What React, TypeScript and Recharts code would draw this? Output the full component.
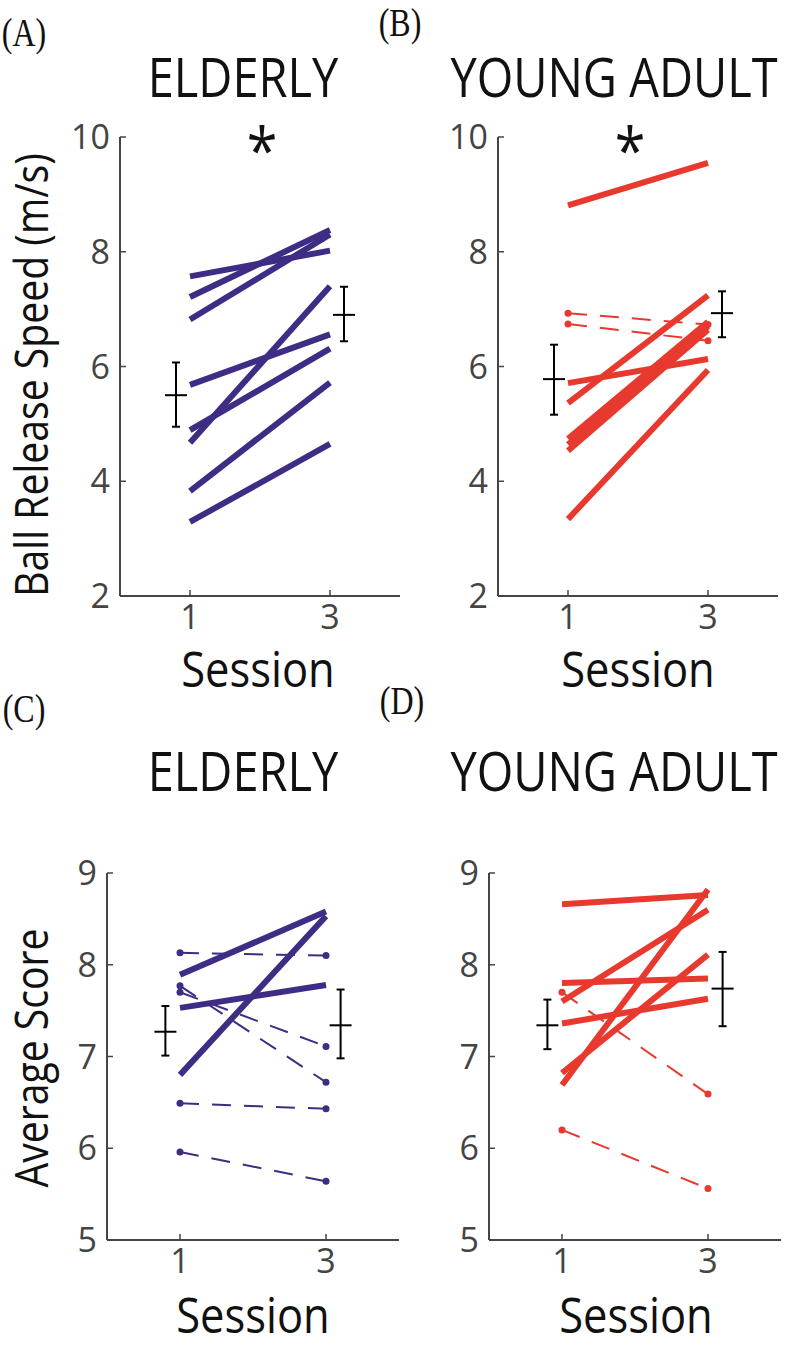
import React from "react";
import { ComposedChart, Line, Scatter, ErrorBar, XAxis, YAxis } from "recharts";

const sessions = [1, 3];
const speedTicks = [2, 4, 6, 8, 10];
const scoreTicks = [5, 6, 7, 8, 9];

// (A) elderly, ball release speed (m/s), session 1 -> session 3
const elderlySpeedS1 = [7.57, 7.21, 6.82, 5.68, 4.89, 4.67, 3.83, 3.29];
const elderlySpeedS3 = [8.02, 8.38, 8.3, 6.56, 6.31, 7.4, 5.72, 4.65];

// (B) young adult, ball release speed
const youngSpeedS1 = [8.81, 5.36, 5.71, 4.74, 4.64, 4.53, 3.34];
const youngSpeedS3 = [9.55, 7.24, 6.13, 6.78, 6.7, 6.64, 5.94];
const youngSpeedDashS1 = [6.93, 6.74];
const youngSpeedDashS3 = [6.73, 6.45];

// (C) elderly, average score
const elderlyScoreS1 = [7.89, 7.53, 6.8];
const elderlyScoreS3 = [8.58, 7.78, 8.53];
const elderlyScoreDashS1 = [8.13, 7.77, 7.7, 6.49, 5.96];
const elderlyScoreDashS3 = [8.1, 6.72, 7.11, 6.43, 5.64];

// (D) young adult, average score
const youngScoreS1 = [8.66, 7.8, 7.6, 7.36, 6.82, 6.69];
const youngScoreS3 = [8.76, 7.85, 8.6, 7.63, 8.11, 8.82];
const youngScoreDashS1 = [7.7, 6.2];
const youngScoreDashS3 = [6.59, 5.56];

// group means with error bar ends (session 1, session 3), drawn beside the sessions
const errX = [0.8, 3.2];
const elderlySpeedMean = [5.5, 6.9];
const elderlySpeedLo = [4.95, 6.44];
const elderlySpeedHi = [6.07, 7.39];
const youngSpeedMean = [5.78, 6.93];
const youngSpeedLo = [5.16, 6.51];
const youngSpeedHi = [6.38, 7.31];
const elderlyScoreMean = [7.27, 7.34];
const elderlyScoreLo = [7.01, 6.98];
const elderlyScoreHi = [7.55, 7.73];
const youngScoreMean = [7.34, 7.74];
const youngScoreLo = [7.08, 7.33];
const youngScoreHi = [7.62, 8.14];

const PURPLE = "#3f2c84";
const RED = "#e8392f";
const AXIS = "#454545";
const SANS = "'Open Sans', sans-serif";

const pairs = (a: number[], b: number[]) =>
  a.map((v, i) => [
    { s: sessions[0], v },
    { s: sessions[1], v: b[i] },
  ]);

const errData = (mean: number[], lo: number[], hi: number[]) =>
  errX.map((x, i) => ({ s: x, v: mean[i], e: [mean[i] - lo[i], hi[i] - mean[i]] }));

function Panel({ box, domain, ticks, color, s1, s3, d1, d3, mean, lo, hi }: any) {
  const [L, T, R, B] = box;
  const yW = 90;
  const xH = 50;
  const left = L - yW - 10;
  const top = T - 40;
  const width = R - left + 15;
  const height = B - top + xH + 5;
  const tickStyle = { fill: "#444", fontSize: 34, fontFamily: SANS };
  return (
    <div style={{ position: "absolute", left, top }}>
      <ComposedChart width={width} height={height} margin={{ top: 40, left: 10, right: 15, bottom: 5 }}>
        <XAxis
          type="number"
          dataKey="s"
          domain={[0, 4]}
          ticks={sessions}
          height={xH}
          tickSize={-6}
          tickMargin={15}
          axisLine={{ stroke: AXIS, strokeWidth: 2 }}
          tickLine={{ stroke: AXIS, strokeWidth: 1.5 }}
          tick={tickStyle}
          allowDataOverflow
        />
        <YAxis
          type="number"
          domain={domain}
          ticks={ticks}
          width={yW}
          tickSize={-6}
          tickMargin={16}
          axisLine={{ stroke: AXIS, strokeWidth: 2 }}
          tickLine={{ stroke: AXIS, strokeWidth: 1.5 }}
          tick={tickStyle}
          allowDataOverflow
        />
        {pairs(d1, d3).map((d, i) => (
          <Line
            key={"d" + i}
            data={d}
            dataKey="v"
            stroke={color}
            strokeWidth={2}
            strokeDasharray="19 13"
            dot={{ r: 3.5, fill: color, stroke: "none" }}
            isAnimationActive={false}
          />
        ))}
        {pairs(s1, s3).map((d, i) => (
          <Line
            key={"s" + i}
            data={d}
            dataKey="v"
            stroke={color}
            strokeWidth={6}
            dot={false}
            isAnimationActive={false}
          />
        ))}
        <Scatter
          data={errData(mean, lo, hi)}
          dataKey="v"
          isAnimationActive={false}
          shape={(p: any) => (
            <line x1={p.cx - 11} x2={p.cx + 11} y1={p.cy} y2={p.cy} stroke="#000" strokeWidth={2} />
          )}
        >
          <ErrorBar dataKey="e" direction="y" width={4} stroke="#000" strokeWidth={2} isAnimationActive={false} />
        </Scatter>
      </ComposedChart>
    </div>
  );
}

function Txt({ x, y, size, children, serif, rotate, lh = 1, color = "#111" }: any) {
  const tf = rotate
    ? "translate(-50%,-50%) rotate(-90deg) scaleX(0.87)"
    : serif
    ? "translate(-50%,-50%) scaleX(0.8)"
    : "translate(-50%,-50%) scaleX(0.87)";
  return (
    <div
      style={{
        position: "absolute",
        left: x,
        top: y,
        transform: tf,
        fontSize: size,
        lineHeight: lh,
        whiteSpace: "nowrap",
        color,
        fontFamily: serif ? "'Liberation Serif', 'Times New Roman', serif" : SANS,
      }}
    >
      {children}
    </div>
  );
}

export default function App() {
  return (
    <div style={{ position: "relative", width: 797, height: 1350, overflow: "hidden", background: "#fff" }}>
      <style>{"body{margin:0}"}</style>

      <Panel
        box={[120, 137, 400, 596]}
        domain={[2, 10]}
        ticks={speedTicks}
        color={PURPLE}
        s1={elderlySpeedS1}
        s3={elderlySpeedS3}
        d1={[]}
        d3={[]}
        mean={elderlySpeedMean}
        lo={elderlySpeedLo}
        hi={elderlySpeedHi}
      />
      <Panel
        box={[498, 137, 778, 596]}
        domain={[2, 10]}
        ticks={speedTicks}
        color={RED}
        s1={youngSpeedS1}
        s3={youngSpeedS3}
        d1={youngSpeedDashS1}
        d3={youngSpeedDashS3}
        mean={youngSpeedMean}
        lo={youngSpeedLo}
        hi={youngSpeedHi}
      />
      <Panel
        box={[107, 873, 399, 1240]}
        domain={[5, 9]}
        ticks={scoreTicks}
        color={PURPLE}
        s1={elderlyScoreS1}
        s3={elderlyScoreS3}
        d1={elderlyScoreDashS1}
        d3={elderlyScoreDashS3}
        mean={elderlyScoreMean}
        lo={elderlyScoreLo}
        hi={elderlyScoreHi}
      />
      <Panel
        box={[489, 873, 781, 1240]}
        domain={[5, 9]}
        ticks={scoreTicks}
        color={RED}
        s1={youngScoreS1}
        s3={youngScoreS3}
        d1={youngScoreDashS1}
        d3={youngScoreDashS3}
        mean={youngScoreMean}
        lo={youngScoreLo}
        hi={youngScoreHi}
      />

      <Txt x={24} y={33} size={40} serif>(A)</Txt>
      <Txt x={243} y={76} size={54}>ELDERLY</Txt>
      <Txt x={400} y={23} size={40} serif>(B)</Txt>
      <Txt x={614} y={76} size={54}>YOUNG ADULT</Txt>
      <Txt x={262} y={150} size={64} lh={0.6}>*</Txt>
      <Txt x={630} y={150} size={64} lh={0.6}>*</Txt>
      <Txt x={30} y={375} size={45} rotate>Ball Release Speed (m/s)</Txt>
      <Txt x={258} y={668} size={50}>Session</Txt>
      <Txt x={638} y={668} size={50}>Session</Txt>

      <Txt x={24} y={709} size={40} serif>(C)</Txt>
      <Txt x={243} y={770} size={54}>ELDERLY</Txt>
      <Txt x={402} y={701} size={40} serif>(D)</Txt>
      <Txt x={614} y={770} size={54}>YOUNG ADULT</Txt>
      <Txt x={30} y={1058} size={45} rotate>Average Score</Txt>
      <Txt x={253} y={1314} size={50}>Session</Txt>
      <Txt x={636} y={1314} size={50}>Session</Txt>
    </div>
  );
}
